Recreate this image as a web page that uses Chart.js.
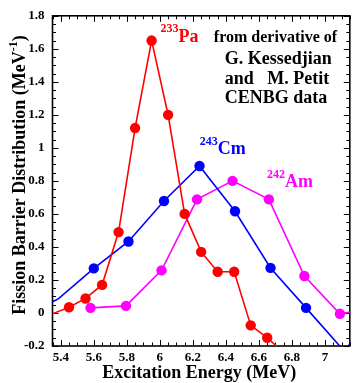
<!DOCTYPE html>
<html>
<head>
<meta charset="utf-8">
<script src="https://cdn.jsdelivr.net/npm/chart.js@4"></script>
<style>
  html, body { margin: 0; padding: 0; background: #fff; }
  #wrap { width: 355px; height: 383px; position: relative; }
</style>
</head>
<body>
<div id="wrap"><canvas id="c"></canvas></div>
<script>
// Fission barrier distributions (MeV^-1) versus excitation energy (MeV)
const paX = [5.25, 5.45, 5.55, 5.65, 5.75, 5.85, 5.95, 6.05, 6.15, 6.25, 6.35, 6.45, 6.55, 6.65, 6.75];
const paY = [-0.045, 0.035, 0.088, 0.17, 0.49, 1.12, 1.65, 1.20, 0.60, 0.37, 0.25, 0.25, -0.075, -0.15, -0.24];

const cmX = [5.17, 5.385, 5.60, 5.81, 6.025, 6.24, 6.455, 6.67, 6.885, 7.12, 7.34];
const cmY = [-0.02, 0.085, 0.27, 0.433, 0.678, 0.89, 0.616, 0.273, 0.031, -0.235, 0.12];

const amX = [5.58, 5.795, 6.01, 6.225, 6.44, 6.66, 6.875, 7.09, 7.305];
const amY = [0.031, 0.043, 0.258, 0.688, 0.80, 0.688, 0.224, -0.005, 0.03];

const xTicks = [5.4, 5.6, 5.8, 6.0, 6.2, 6.4, 6.6, 6.8, 7.0];
const xTickLabels = ['5.4', '5.6', '5.8', '6', '6.2', '6.4', '6.6', '6.8', '7'];
const yTicks = [-0.2, 0, 0.2, 0.4, 0.6, 0.8, 1.0, 1.2, 1.4, 1.6, 1.8];
const yTickLabels = ['-0.2', '0', '0.2', '0.4', '0.6', '0.8', '1', '1.2', '1.4', '1.6', '1.8'];

const isotopes = ['Pa', 'Cm', 'Am'];
const massNumbers = ['233', '243', '242'];
const noteLines = ['from derivative of', 'G. Kessedjian', 'and   M. Petit', 'CENBG data'];

const SERIF = '"Liberation Serif", "Times New Roman", serif';
const RED = '#ff0000', BLUE = '#0000ff', MAGENTA = '#ff00ff';

function toPoints(xs, ys) { return xs.map((x, i) => ({ x: x, y: ys[i] })); }

function series(xs, ys, color) {
  return {
    data: toPoints(xs, ys),
    borderColor: color,
    backgroundColor: color,
    borderWidth: 1.6,
    pointRadius: ctx => {
      const p = ctx.raw;
      // no symbols at the turning points that sit on the frame edges
      return (p && (p.x < 5.4 || p.y < -0.2)) ? 0 : 5.2;
    },
    pointBorderWidth: 0,
    pointHoverRadius: 5.2,
    tension: 0,
    clip: 0
  };
}

// frame with inward major/minor ticks on all four sides
const framePlugin = {
  id: 'frame',
  beforeDatasetsDraw(chart) {
    const { ctx, chartArea: a, scales } = chart;
    const xs = scales.x, ys = scales.y;
    ctx.save();
    ctx.strokeStyle = '#000';
    ctx.lineWidth = 1;
    const majLen = 6, minLen = 3.5;
    const step = 0.05;
    for (let k = Math.ceil(xs.min / step - 1e-6); k * step <= xs.max + 1e-6; k++) {
      const v = k * step;
      const major = xTicks.some(t => Math.abs(t - v) < 1e-6);
      const px = Math.round(xs.getPixelForValue(v)) + 0.5;
      const len = major ? majLen : minLen;
      ctx.beginPath();
      ctx.moveTo(px, a.bottom); ctx.lineTo(px, a.bottom - len);
      ctx.moveTo(px, a.top); ctx.lineTo(px, a.top + len);
      ctx.stroke();
    }
    for (let k = Math.ceil(ys.min / step - 1e-6); k * step <= ys.max + 1e-6; k++) {
      const v = k * step;
      const major = yTicks.some(t => Math.abs(t - v) < 1e-6);
      const py = Math.round(ys.getPixelForValue(v)) + 0.5;
      const len = major ? majLen : minLen;
      ctx.beginPath();
      ctx.moveTo(a.left, py); ctx.lineTo(a.left + len, py);
      ctx.moveTo(a.right, py); ctx.lineTo(a.right - len, py);
      ctx.stroke();
    }
    ctx.lineWidth = 1.6;
    ctx.strokeRect(a.left, a.top, a.right - a.left, a.bottom - a.top);
    ctx.restore();
  }
};

// isotope labels, source note and axis titles
const textPlugin = {
  id: 'texts',
  afterDatasetsDraw(chart) {
    const { ctx, chartArea: a, scales } = chart;
    const xs = scales.x, ys = scales.y;
    ctx.save();
    ctx.textAlign = 'left';
    ctx.textBaseline = 'alphabetic';

    const anchors = [
      { x: 6.004, y: 1.642, color: RED },
      { x: 6.242, y: 0.961, color: BLUE },
      { x: 6.649, y: 0.761, color: MAGENTA }
    ];
    isotopes.forEach((name, i) => {
      const px = xs.getPixelForValue(anchors[i].x);
      const py = ys.getPixelForValue(anchors[i].y);
      ctx.fillStyle = anchors[i].color;
      ctx.font = 'bold 12px ' + SERIF;
      ctx.fillText(massNumbers[i], px, py - 9.5);
      const w = ctx.measureText(massNumbers[i]).width;
      ctx.font = 'bold 18px ' + SERIF;
      ctx.fillText(name, px + w, py);
    });

    ctx.fillStyle = '#000';
    const noteAnchors = [
      { x: 6.327, y: 1.641, size: 16 },
      { x: 6.393, y: 1.507, size: 18 },
      { x: 6.393, y: 1.388, size: 18 },
      { x: 6.393, y: 1.273, size: 18 }
    ];
    noteLines.forEach((line, i) => {
      ctx.font = 'bold ' + noteAnchors[i].size + 'px ' + SERIF;
      ctx.fillText(line, xs.getPixelForValue(noteAnchors[i].x), ys.getPixelForValue(noteAnchors[i].y));
    });

    // x axis title
    ctx.font = 'bold 18px ' + SERIF;
    ctx.textAlign = 'center';
    ctx.fillText('Excitation Energy (MeV)', (a.left + a.right) / 2 - 2, 378);

    // y axis title with superscript unit
    const main = 'Fission Barrier Distribution (MeV';
    const sup = '-1';
    const close = ')';
    ctx.textAlign = 'left';
    ctx.font = 'bold 18px ' + SERIF;
    const wMain = ctx.measureText(main).width;
    const wClose = ctx.measureText(close).width;
    ctx.font = 'bold 12px ' + SERIF;
    const wSup = ctx.measureText(sup).width;
    const total = wMain + wSup + wClose;
    ctx.translate(24.5, 175);
    ctx.rotate(-Math.PI / 2);
    let x0 = -total / 2;
    ctx.font = 'bold 18px ' + SERIF;
    ctx.fillText(main, x0, 0);
    ctx.font = 'bold 12px ' + SERIF;
    ctx.fillText(sup, x0 + wMain, -8);
    ctx.font = 'bold 18px ' + SERIF;
    ctx.fillText(close, x0 + wMain + wSup, 0);
    ctx.restore();
  }
};

const tickFont = { family: SERIF, size: 13, weight: 'bold' };

new Chart(document.getElementById('c'), {
  type: 'line',
  data: {
    datasets: [
      series(paX, paY, RED),
      series(cmX, cmY, BLUE),
      series(amX, amY, MAGENTA)
    ]
  },
  options: {
    responsive: true,
    maintainAspectRatio: false,
    animation: false,
    events: [],
    layout: { padding: { top: 11, right: 0, left: 0, bottom: 0 } },
    plugins: { legend: { display: false }, tooltip: { enabled: false } },
    scales: {
      x: {
        type: 'linear',
        min: 5.35,
        max: 7.15,
        grid: { display: false, drawTicks: false },
        border: { display: false },
        afterBuildTicks: s => { s.ticks = xTicks.map(v => ({ value: v })); },
        afterFit: s => { s.height = 37; },
        ticks: {
          autoSkip: false,
          maxRotation: 0,
          padding: 4,
          color: '#000',
          font: tickFont,
          callback: v => xTickLabels[xTicks.indexOf(v)]
        }
      },
      y: {
        type: 'linear',
        min: -0.2,
        max: 1.8,
        grid: { display: false, drawTicks: false },
        border: { display: false },
        afterBuildTicks: s => { s.ticks = yTicks.map(v => ({ value: v })); },
        afterFit: s => { s.width = 52.5; },
        ticks: {
          autoSkip: false,
          padding: 8,
          color: '#000',
          font: tickFont,
          callback: v => yTickLabels[yTicks.indexOf(v)]
        }
      }
    }
  },
  plugins: [framePlugin, textPlugin]
});
</script>
</body>
</html>
